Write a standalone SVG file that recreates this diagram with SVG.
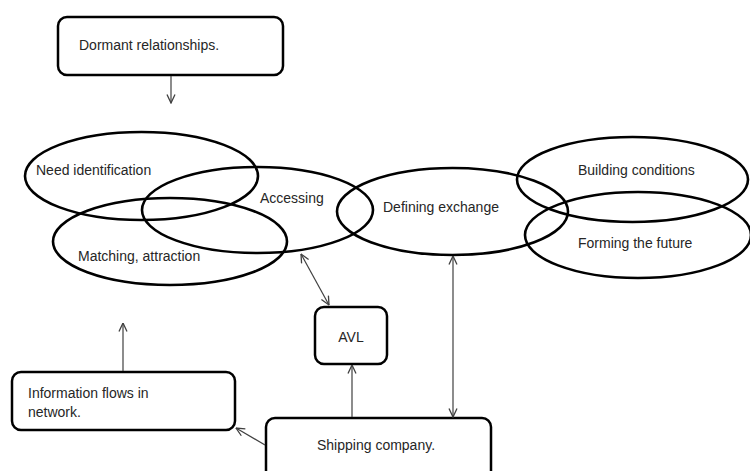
<svg xmlns="http://www.w3.org/2000/svg" width="750" height="471" viewBox="0 0 750 471">
<defs>
<style>
.box{fill:#fff;stroke:#000;stroke-width:2.5}
.ell{fill:none;stroke:#000;stroke-width:2.6}
.lbl{font-family:"Liberation Sans",Arial,sans-serif;font-size:14px;fill:#262626}
.con{stroke:#404040;stroke-width:1.2;fill:none}
</style>
<marker id="ah" viewBox="0 0 10 10" refX="9.5" refY="5" markerWidth="10" markerHeight="10" markerUnits="userSpaceOnUse" orient="auto-start-reverse">
<path d="M1,1 L9.5,5 L1,9" fill="none" stroke="#404040" stroke-width="1.3"/>
</marker>
</defs>
<rect width="750" height="471" fill="#fff"/>
<g id="dormant"><rect class="box" x="58" y="17" width="225" height="58" rx="9"/><text class="lbl" x="79" y="50">Dormant relationships.</text></g>
<g id="need"><ellipse class="ell" cx="141.5" cy="176" rx="116.5" ry="44"/><text class="lbl" x="36" y="175">Need identification</text></g>
<g id="accessing"><ellipse class="ell" cx="257.5" cy="210" rx="115.5" ry="43"/><text class="lbl" x="260" y="203">Accessing</text></g>
<g id="matching"><ellipse class="ell" cx="170" cy="241.5" rx="117" ry="43.5"/><text class="lbl" x="78" y="261">Matching, attraction</text></g>
<g id="defining"><ellipse class="ell" cx="452.5" cy="211.5" rx="115.5" ry="43.5"/><text class="lbl" x="383" y="212">Defining exchange</text></g>
<g id="building"><ellipse class="ell" cx="632.5" cy="179.5" rx="115.5" ry="42.5"/><text class="lbl" x="578" y="175">Building conditions</text></g>
<g id="forming"><ellipse class="ell" cx="638" cy="235" rx="113" ry="43"/><text class="lbl" x="578" y="248">Forming the future</text></g>
<g id="avl"><rect class="box" x="315" y="307" width="72" height="57" rx="9"/><text class="lbl" x="351" y="342" text-anchor="middle">AVL</text></g>
<g id="info"><rect class="box" x="12" y="372" width="223" height="58" rx="9"/><text class="lbl" x="28" y="398">Information flows in</text><text class="lbl" x="28" y="417">network.</text></g>
<g id="shipping"><rect class="box" x="266" y="418" width="225" height="62" rx="9"/><text class="lbl" x="317" y="450">Shipping company.</text></g>
<g id="connectors">
<line class="con" x1="171" y1="76" x2="171" y2="103" marker-end="url(#ah)"/>
<line class="con" x1="123" y1="371" x2="123" y2="323" marker-end="url(#ah)"/>
<line class="con" x1="352" y1="417" x2="352" y2="365" marker-end="url(#ah)"/>
<line class="con" x1="453" y1="256" x2="453" y2="417" marker-start="url(#ah)" marker-end="url(#ah)"/>
<line class="con" x1="301" y1="254" x2="329" y2="305" marker-start="url(#ah)" marker-end="url(#ah)"/>
<line class="con" x1="265" y1="445" x2="236" y2="428" marker-end="url(#ah)"/>
</g>
</svg>
